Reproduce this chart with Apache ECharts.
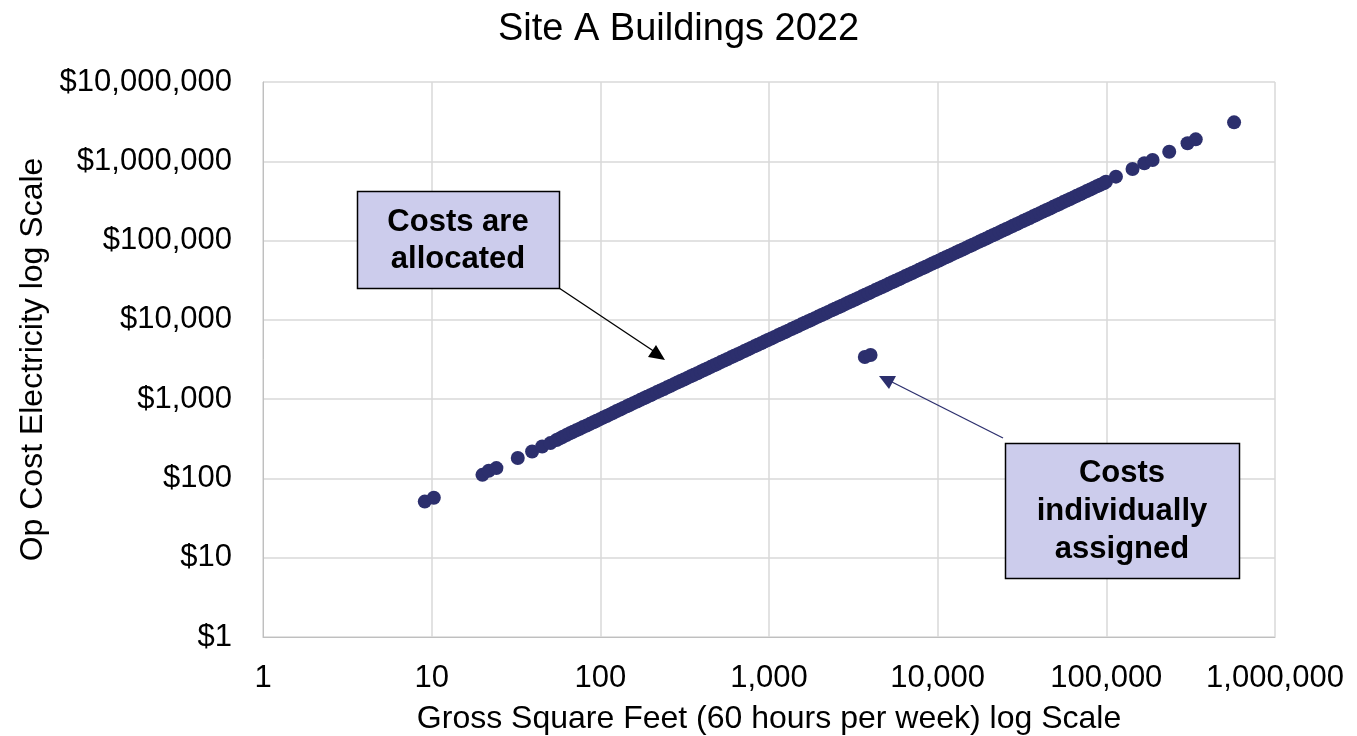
<!DOCTYPE html>
<html>
<head>
<meta charset="utf-8">
<script src="https://cdn.jsdelivr.net/npm/echarts@6/dist/echarts.min.js"></script>
<style>
html,body{margin:0;padding:0;background:#fff;}
#chart{width:1357px;height:736px;}
</style>
</head>
<body>
<div id="chart"></div>
<script>
// Gross square feet (allocated-cost buildings)
const sqft = [9.1, 10.3, 20, 21.8, 24.2, 32.4, 39.4, 45.2, 50.6,
  55, 57.5, 60, 63, 66, 69, 72, 75.5, 79, 83,
  87, 91, 95, 99.5, 104, 109, 114, 119.5, 125, 131,
  137, 143.5, 150, 157, 165, 173, 181, 189, 198, 207,
  217, 227, 238, 249, 261, 273, 286, 299, 313, 328,
  343, 359, 376, 394, 412, 431, 452, 473, 495, 518,
  543, 568, 595, 623, 652, 683, 715, 748, 783, 820,
  858, 898, 941, 985, 1031, 1080, 1130, 1183, 1239, 1297,
  1358, 1422, 1488, 1558, 1631, 1708, 1787, 1871, 1959, 2051,
  2147, 2248, 2353, 2464, 2579, 2700, 2826, 2959, 3098, 3243,
  3395, 3555, 3721, 3896, 4078, 4270, 4470, 4680, 4899, 5129,
  5369, 5621, 5884, 6160, 6449, 6752, 7068, 7400, 7747, 8110,
  8490, 8889, 9305, 9742, 10200, 10680, 11180, 11700, 12250, 12830,
  13430, 14060, 14720, 15410, 16130, 16890, 17680, 18510, 19370, 20280,
  21230, 22230, 23270, 24360, 25510, 26710, 27960, 29270, 30640, 32080,
  33580, 35150, 36800, 38530, 40340, 42230, 44210, 46290, 48450, 50720,
  53100, 55590, 58200, 60930, 63790, 66780, 69910, 73190, 76620, 80220,
  83980, 87920, 92040, 96400,
  99500, 114000, 143000, 168000, 188000, 236000, 303000, 339000, 572000];
// Op cost electricity (allocated)
const cost = [51, 57, 111, 125, 135, 181, 219, 253, 279,
  305, 320, 335, 353, 372, 388, 404, 424, 445, 466,
  488, 511, 535, 559, 585, 613, 642, 674, 708, 741,
  776, 811, 848, 890, 935, 979, 1025, 1071, 1120, 1173,
  1228, 1285, 1345, 1408, 1475, 1545, 1618, 1692, 1770, 1853,
  1940, 2030, 2125, 2225, 2330, 2440, 2555, 2675, 2800, 2932,
  3070, 3214, 3365, 3524, 3690, 3861, 4040, 4230, 4430, 4635,
  4850, 5080, 5320, 5569, 5830, 6099, 6380, 6678, 6990, 7313,
  7650, 8007, 8380, 8771, 9180, 9605, 10050, 10510, 11000, 11510,
  12040, 12600, 13180, 13790, 14430, 15090, 15790, 16520, 17290, 18090,
  18930, 19800, 20720, 21680, 22680, 23730, 24830, 25980, 27180, 28440,
  29760, 31140, 32580, 34090, 35670, 37320, 39050, 40860, 42760, 44750,
  46830, 49010, 51290, 53680, 56170, 58790, 61520, 64390, 67400, 70540,
  73830, 77270, 80880, 84650, 88600, 92750, 97100, 101600, 106400, 111400,
  116600, 122100, 127800, 133800, 140100, 146600, 153500, 160700, 168300, 176200,
  184400, 193000, 202100, 211600, 221600, 232000, 242900, 254300, 266200, 278700,
  291800, 305500, 319800, 334800, 350600, 367100, 384300, 402300, 421200, 441000,
  461700, 483400, 506000, 529000,
  553000, 640000, 800000, 944000, 1040000, 1320000, 1690000, 1890000, 3100000];
// Individually assigned buildings
const sqftAssigned = [3700, 4000];
const costAssigned = [3400, 3600];

const xTicks = ['1', '10', '100', '1,000', '10,000', '100,000', '1,000,000'];
const yTicks = ['$1', '$10', '$100', '$1,000', '$10,000', '$100,000', '$1,000,000', '$10,000,000'];

const pts = sqft.map((v, i) => [v, cost[i]]).concat(sqftAssigned.map((v, i) => [v, costAssigned[i]]));

const FONT = '"Liberation Sans", Arial, sans-serif';
const navy = '#2C2F6D';
const chart = echarts.init(document.getElementById('chart'), null, {renderer: 'canvas'});

chart.setOption({
  animation: false,
  backgroundColor: '#fff',
  title: {
    text: 'Site A Buildings 2022', left: 'center', top: 6,
    textStyle: {fontFamily: FONT, fontSize: 38, fontWeight: 'normal', color: '#000'}
  },
  grid: {left: 263, right: 82, top: 82, bottom: 99, containLabel: false, outerBoundsMode: 'none'},
  xAxis: {
    type: 'log', logBase: 10, min: 1, max: 1000000,
    name: 'Gross Square Feet (60 hours per week) log Scale',
    nameLocation: 'middle', nameGap: 66,
    nameTextStyle: {fontFamily: FONT, fontSize: 32, color: '#000'},
    axisLine: {show: true, lineStyle: {color: '#BFBFBF', width: 1}},
    axisTick: {show: false},
    splitLine: {show: true, lineStyle: {color: '#D9D9D9', width: 1.5}},
    axisLabel: {fontFamily: FONT, fontSize: 31, color: '#000', margin: 26,
      formatter: v => xTicks[Math.round(Math.log10(v))]}
  },
  yAxis: {
    type: 'log', logBase: 10, min: 1, max: 10000000,
    name: 'Op Cost Electricity log Scale',
    nameLocation: 'middle', nameGap: 213, nameRotate: 90,
    nameTextStyle: {fontFamily: FONT, fontSize: 32, color: '#000'},
    axisLine: {show: true, lineStyle: {color: '#BFBFBF', width: 1}},
    axisTick: {show: false},
    splitLine: {show: true, lineStyle: {color: '#D9D9D9', width: 1.5}},
    axisLabel: {fontFamily: FONT, fontSize: 31, color: '#000', margin: 31,
      formatter: v => yTicks[Math.round(Math.log10(v))]}
  },
  series: [{
    type: 'scatter',
    data: pts,
    symbol: 'circle',
    symbolSize: 14,
    itemStyle: {color: navy, opacity: 1},
    z: 3
  }],
  graphic: [
    {type: 'line', shape: {x1: 559, y1: 288, x2: 655, y2: 352}, style: {stroke: '#000', lineWidth: 1.3}, z: 10},
    {type: 'polygon', shape: {points: [[665, 360], [648, 357], [656, 345]]}, style: {fill: '#000'}, z: 10},
    {type: 'line', shape: {x1: 1003, y1: 438, x2: 888, y2: 380}, style: {stroke: navy, lineWidth: 1.3}, z: 10},
    {type: 'polygon', shape: {points: [[879, 376], [896, 376], [889, 389]]}, style: {fill: navy}, z: 10},
    {type: 'rect', shape: {x: 357.5, y: 191.5, width: 202, height: 97}, style: {fill: '#CCCCEC', stroke: '#000', lineWidth: 1.5}, z: 11},
    {type: 'text', x: 458, y: 241, z: 12,
      style: {text: 'Costs are\nallocated', font: 'bold 31px ' + FONT, fill: '#000', align: 'center', verticalAlign: 'middle', lineHeight: 37}},
    {type: 'rect', shape: {x: 1005.5, y: 443.5, width: 234, height: 135}, style: {fill: '#CCCCEC', stroke: '#000', lineWidth: 1.5}, z: 11},
    {type: 'text', x: 1122, y: 511, z: 12,
      style: {text: 'Costs\nindividually\nassigned', font: 'bold 31px ' + FONT, fill: '#000', align: 'center', verticalAlign: 'middle', lineHeight: 38}}
  ]
});
</script>
</body>
</html>
